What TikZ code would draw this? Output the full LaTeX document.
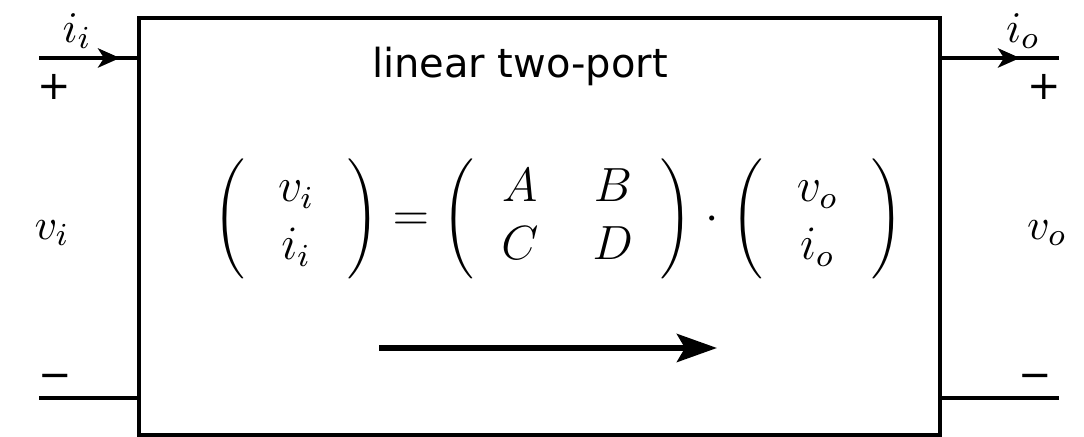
\documentclass[tikz,border=0pt]{standalone}
\usepackage{fontspec}
\newfontfamily\portfont{DejaVu Sans}
\usetikzlibrary{arrows.meta,positioning}
\newcommand{\portvec}[2]{\Biggl(\begin{array}{@{\hspace{8.3pt}}c@{\hspace{8.3pt}}} #1\\ #2 \end{array}\Biggr)}

\begin{document}
\begin{tikzpicture}[
  x=0.25pt, y=-0.25pt,
  portbox/.style={rectangle, draw, line width=1pt, outer sep=0pt,
                  minimum width=200.25pt, minimum height=104.25pt},
  wire/.style={line width=1pt},
  current/.style={line width=1pt, -{Stealth[length=5.5pt, width=4.8pt, inset=1.5pt]}},
  flow/.style={line width=1.5pt, -{Stealth[length=10pt, width=7pt, inset=2pt]}},
  sign/.style={font=\portfont\fontsize{10}{12}\selectfont, inner sep=0pt},
  var/.style={font=\fontsize{11}{13}\selectfont, inner sep=0pt},
]
  \useasboundingbox (0,0) rectangle (1084,437);

  \node[portbox] (port) at (539.5,226.5) {};
  \node[sign, anchor=base] (title) at (520,78) {linear two-port};

  % terminals
  \coordinate (inp) at (39,58);
  \coordinate (inm) at (39,398);
  \coordinate (outp) at (1059,58);
  \coordinate (outm) at (1059,398);
  \coordinate (itip) at (120,58);
  \coordinate (otip) at (1020,58);

  \draw[wire] (inp) -- (inp -| port.west);
  \draw[wire] (inm) -- (inm -| port.west);
  \draw[wire] (port.east |- outp) -- (outp);
  \draw[wire] (port.east |- outm) -- (outm);
  \draw[current] (inp) -- (itip);
  \draw[current] (port.east |- outp) -- (otip);

  \node[var] (ii) at (77,31) {$i_i$};
  \node[var] (io) at (1023,31) {$i_o$};
  \node[var] (vi) at (52,233) {$v_i$};
  \node[var] (vo) at (1047,233) {$v_o$};
  \node[sign] (pi) at (54,87) {+};
  \node[sign] (po) at (1044,87) {+};
  \node[sign] (mi) at (55,381) {\char"2212};
  \node[sign] (mo) at (1035,381) {\char"2212};

  % transmission equation
  \node[var, font=\fontsize{12}{14.4}\selectfont] (eq) at (558,219) {\arraycolsep=6.8pt
    $\portvec{v_i}{i_i}
    = \Biggl(\begin{array}{cc} A & B\\ C & D \end{array}\Biggr)
    \mkern1mu\cdot\mkern1mu \portvec{v_o}{i_o}$};

  \coordinate (flowa) at (379,348);
  \coordinate (flowb) at (717,348);
  \draw[flow] (flowa) -- (flowb);
\end{tikzpicture}
\end{document}
